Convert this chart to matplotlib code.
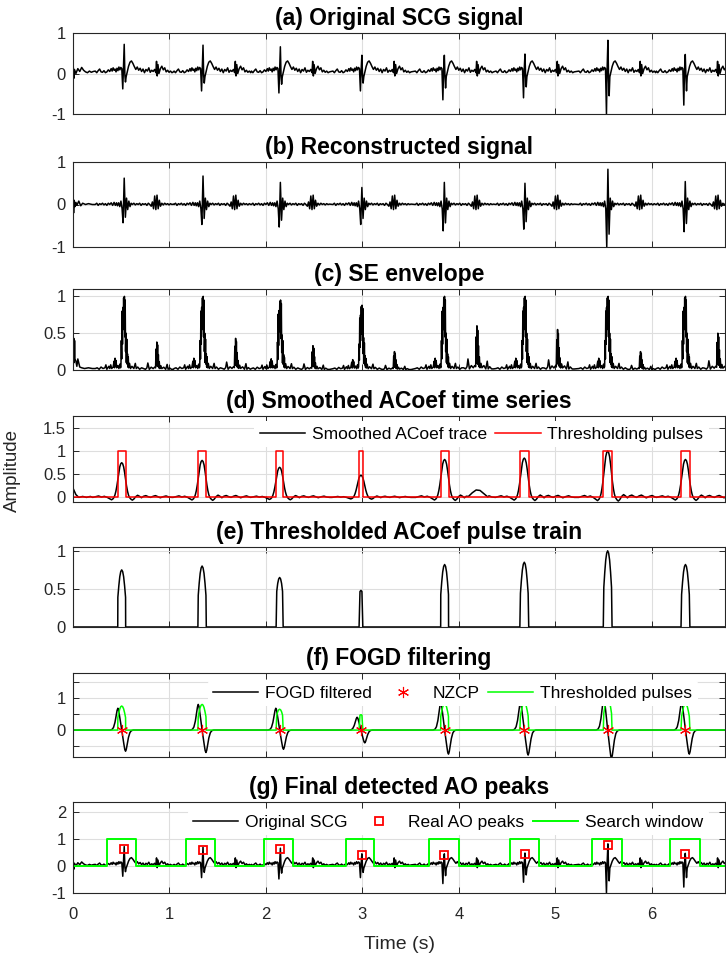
import numpy as np
import matplotlib
matplotlib.use("Agg")
import matplotlib.pyplot as plt

plt.rcParams['font.family'] = ['Liberation Sans', 'DejaVu Sans']
plt.rcParams['axes.unicode_minus'] = False

XMAX = 6.76

# ---- beat timing (s) ----
AO_TIMES = [0.531, 1.348, 2.150, 2.995, 3.850, 4.686, 5.546, 6.348]
AO_PEAK_VALUES = [0.64, 0.61, 0.64, 0.40, 0.40, 0.45, 0.76, 0.43]

# ---- (a) original SCG: one heart cycle around the AO peak ----
SCG_OFF = [-0.300, -0.285, -0.270, -0.255, -0.240, -0.225, -0.210, -0.195, -0.180,
           -0.165, -0.150, -0.135, -0.125, -0.115, -0.105, -0.095, -0.085, -0.075,
           -0.065, -0.055, -0.045, -0.035, -0.025, -0.015, -0.008, 0.000, 0.007,
           0.013, 0.020, 0.030, 0.045, 0.060, 0.075, 0.090, 0.105, 0.120, 0.135,
           0.150, 0.165, 0.180, 0.195, 0.210, 0.225, 0.240, 0.255, 0.270, 0.285,
           0.300, 0.315, 0.328, 0.335, 0.342, 0.350, 0.360, 0.375, 0.390, 0.405,
           0.420, 0.435, 0.450, 0.465, 0.480, 0.495, 0.510]
SCG_VAL = [0.06, 0.02, 0.07, 0.11, 0.04, 0.03, 0.07, 0.02, 0.04,
           0.09, 0.05, 0.12, 0.06, 0.14, 0.08, 0.11, 0.04, 0.13,
           0.07, 0.16, 0.09, 0.15, 0.12, -0.40, 0.10, 0.70, -0.05,
           -0.22, -0.08, 0.02, 0.18, 0.28, 0.31, 0.25, 0.17, 0.10, 0.16,
           0.08, 0.13, 0.05, 0.11, 0.02, 0.10, 0.06, 0.14, 0.03, 0.08,
           0.05, 0.10, 0.02, 0.30, -0.06, 0.22, 0.00, 0.12, 0.18, 0.09,
           0.14, 0.04, 0.08, 0.03, 0.06, 0.02, 0.04]
SCG_LEAD_T = [0.000, 0.008, 0.015, 0.030, 0.050, 0.070, 0.090, 0.110, 0.130, 0.150,
              0.170, 0.190, 0.210]
SCG_LEAD_V = [0.30, -0.12, 0.10, 0.00, 0.12, 0.05, 0.15, 0.08, 0.04, 0.02,
              0.06, 0.03, 0.05]
SCG_AO_POS = [0.72, 0.70, 0.66, 0.45, 0.45, 0.48, 0.82, 0.47]
SCG_AO_NEG = [-0.38, -0.43, -0.48, -0.43, -0.65, -0.60, -1.00, -0.78]

# ---- (b) reconstructed signal ----
REC_OFF = [-0.300, -0.285, -0.270, -0.255, -0.240, -0.225, -0.210, -0.195, -0.180,
           -0.165, -0.150, -0.135, -0.120, -0.105, -0.092, -0.080, -0.070, -0.058,
           -0.046, -0.034, -0.022, -0.012, 0.000, 0.012, 0.024, 0.036, 0.048,
           0.060, 0.072, 0.085, 0.100, 0.115, 0.130, 0.145, 0.160, 0.175, 0.190,
           0.205, 0.220, 0.235, 0.250, 0.265, 0.280, 0.292, 0.304, 0.316, 0.328,
           0.340, 0.352, 0.364, 0.376, 0.390, 0.405, 0.420, 0.435, 0.450, 0.465,
           0.480, 0.495, 0.510]
REC_VAL = [0.00, 0.03, -0.02, 0.02, 0.00, 0.03, -0.01, 0.02, -0.02,
           0.03, 0.00, 0.04, -0.02, 0.05, -0.02, 0.04, -0.03, 0.04,
           -0.05, 0.08, -0.10, -0.43, 0.65, -0.30, 0.15, -0.12, 0.08,
           -0.05, 0.03, 0.00, 0.03, -0.01, 0.02, 0.00, 0.03, -0.02, 0.02,
           0.00, 0.02, -0.02, 0.03, 0.00, -0.04, 0.06, -0.10, 0.20, -0.12,
           0.22, -0.10, 0.10, -0.04, 0.03, -0.01, 0.03, 0.00, 0.02, -0.01,
           0.02, 0.00, 0.01]
REC_LEAD_T = [0.000, 0.006, 0.012, 0.020, 0.030, 0.040, 0.060, 0.080, 0.100,
              0.130, 0.160, 0.200]
REC_LEAD_V = [0.25, -0.20, 0.10, -0.05, 0.05, -0.02, 0.08, -0.03, 0.03,
              0.00, 0.02, 0.00]
REC_AO_POS = [0.62, 0.67, 0.52, 0.40, 0.52, 0.50, 0.83, 0.54]
REC_AO_NEG = [-0.43, -0.47, -0.53, -0.47, -0.62, -0.58, -1.00, -0.64]

# ---- (c) Shannon energy envelope ----
SE_OFF = [-0.300, -0.280, -0.260, -0.240, -0.220, -0.200, -0.190, -0.180, -0.160,
          -0.150, -0.140, -0.130, -0.115, -0.105, -0.100, -0.095, -0.090, -0.085,
          -0.078, -0.065, -0.055, -0.045, -0.038, -0.034, -0.030, -0.026, -0.022,
          -0.018, -0.014, -0.010, -0.006, -0.002, 0.002, 0.006, 0.010, 0.014,
          0.018, 0.022, 0.026, 0.030, 0.034, 0.038, 0.042, 0.046, 0.055, 0.065,
          0.080, 0.100, 0.115, 0.125, 0.140, 0.160, 0.180,
          0.200, 0.220, 0.235, 0.245, 0.260, 0.280, 0.300, 0.315, 0.325, 0.330,
          0.334, 0.338, 0.342, 0.346, 0.350, 0.354, 0.358, 0.363, 0.370, 0.380,
          0.390, 0.410, 0.430, 0.445, 0.455, 0.470, 0.490, 0.510]
SE_VAL = [0.02, 0.03, 0.01, 0.04, 0.02, 0.03, 0.07, 0.01, 0.05,
          0.02, 0.07, 0.02, 0.04, 0.12, 0.03, 0.16, 0.05, 0.13,
          0.03, 0.06, 0.02, 0.08, 0.03, 0.05, 0.40, 0.15, 0.80,
          0.35, 0.85, 0.55, 0.98, 0.60, 1.00, 0.45, 0.95, 0.25,
          0.50, 0.10, 0.42, 0.08, 0.22, 0.04, 0.18, 0.03, 0.09, 0.02,
          0.05, 0.02, 0.09, 0.02, 0.04, 0.01, 0.03,
          0.02, 0.01, 0.03, 0.10, 0.01, 0.04, 0.02, 0.04, 0.03, 0.30,
          0.06, 0.40, 0.12, 0.36, 0.05, 0.22, 0.03, 0.12, 0.02, 0.06,
          0.02, 0.04, 0.01, 0.08, 0.01, 0.03, 0.01, 0.01]
SE_LEAD_T = [0.000, 0.004, 0.008, 0.012, 0.016, 0.020, 0.030, 0.040, 0.050,
             0.070, 0.090, 0.120, 0.160, 0.200]
SE_LEAD_V = [0.45, 0.20, 0.43, 0.10, 0.40, 0.15, 0.12, 0.05, 0.15,
             0.04, 0.03, 0.02, 0.03, 0.02]
SE_AO = [1.00, 1.00, 0.95, 0.88, 1.00, 1.00, 1.00, 1.00]
SE_AC = [0.38, 0.43, 0.33, 0.25, 0.60, 0.55, 0.25, 0.50]

# ---- (d) smoothed ACoef trace and thresholding windows ----
ACOEF_TIMES = [0.505, 1.3385, 2.1425, 2.9855, 3.853, 4.679, 5.5435, 6.350]
ACOEF_PEAK = [0.75, 0.80, 0.65, 0.48, 0.82, 0.85, 1.00, 0.82]
ACOEF_OFF = [-0.300, -0.270, -0.240, -0.210, -0.180, -0.150, -0.125, -0.105, -0.090,
             -0.080, -0.070, -0.060, -0.050, -0.040, -0.030, -0.020, -0.010, 0.000,
             0.010, 0.020, 0.030, 0.040, 0.050, 0.060, 0.070, 0.080, 0.095, 0.110,
             0.125, 0.145, 0.165, 0.185, 0.205, 0.225, 0.250, 0.275, 0.300, 0.325,
             0.350, 0.375, 0.400, 0.430, 0.460, 0.490, 0.520]
ACOEF_VAL = [0.00, 0.02, 0.04, 0.01, 0.03, 0.00, -0.04, -0.07, -0.04,
             0.00, 0.07, 0.18, 0.33, 0.52, 0.72, 0.88, 0.97, 1.00,
             0.97, 0.88, 0.72, 0.52, 0.33, 0.18, 0.07, 0.00, -0.05, -0.08,
             -0.05, 0.02, 0.06, 0.03, -0.01, 0.03, 0.05, 0.02, 0.00, 0.03,
             0.05, 0.02, -0.01, 0.02, 0.04, 0.01, 0.00]
ACOEF_LEAD_T = [0.00, 0.03, 0.06, 0.10, 0.14, 0.18]
ACOEF_LEAD_V = [0.20, 0.06, 0.00, 0.02, 0.00, 0.02]
ACOEF_BUMP_T = [4.10, 4.14, 4.18, 4.22, 4.26, 4.30]
ACOEF_BUMP_V = [0.02, 0.10, 0.16, 0.15, 0.08, 0.01]
PULSE_START = [0.464, 1.295, 2.106, 2.966, 3.812, 4.633, 5.498, 6.304]
PULSE_END = [0.546, 1.382, 2.179, 3.005, 3.894, 4.725, 5.589, 6.396]
PULSE_LEVEL = 1.0

# ---- (f) FOGD output ----
FOGD_OFF = [-0.120, -0.100, -0.085, -0.070, -0.058, -0.048, -0.040, -0.032, -0.022,
            -0.011, 0.000, 0.011, 0.022, 0.032, 0.040, 0.048, 0.058, 0.070, 0.085,
            0.100, 0.120]
FOGD_VAL = [0.00, 0.03, 0.12, 0.35, 0.65, 0.90, 1.00, 0.92, 0.65,
            0.33, 0.00, -0.33, -0.65, -0.92, -1.00, -0.90, -0.65, -0.35, -0.12,
            -0.03, 0.00]
FOGD_POS = [0.68, 0.80, 0.68, 0.40, 0.85, 0.85, 1.00, 0.85]
FOGD_NEG = [-0.66, -0.70, -0.60, -0.40, -0.75, -0.78, -0.88, -0.75]

# ---- (g) search windows ----
WIN_START = [0.353, 1.174, 1.980, 2.826, 3.696, 4.527, 5.386, 6.193]
WIN_END = [0.652, 1.473, 2.285, 3.116, 4.000, 4.830, 5.690, 6.498]
WIN_LEVEL = 1.0


def beat_train(times, off, val, pos_gain, neg_gain=None, core=None,
               late_gain=None, split=np.inf):
    """Lay one template per beat; gains rescale the core / late parts."""
    off = np.asarray(off, float)
    val = np.asarray(val, float)
    core = np.ones(off.shape, bool) if core is None else core
    pmax, nmin = val[core].max(), val[core].min()
    ts, vs = [], []
    for i, t0 in enumerate(times):
        v = val.copy()
        early = off < split
        m = core & early
        v[m & (val > 0)] *= pos_gain[i] / pmax
        if neg_gain is not None:
            v[m & (val < 0)] *= neg_gain[i] / nmin
        else:
            v[m & (val < 0)] *= pos_gain[i] / pmax
        if late_gain is not None:
            v[~early] *= late_gain[i]
        stop = times[i + 1] + off[0] - t0 if i + 1 < len(times) else np.inf
        keep = off < stop
        ts.append(t0 + off[keep])
        vs.append(v[keep])
    return np.concatenate(ts), np.concatenate(vs)


def with_lead(lead_t, lead_v, t, v):
    return np.r_[lead_t, t], np.r_[lead_v, v]


def steps(starts, ends, level):
    xs, ys = [0.0], [0.0]
    for s, e in zip(starts, ends):
        xs += [s, s, e, e]
        ys += [0.0, level, level, 0.0]
    xs.append(XMAX)
    ys.append(0.0)
    return xs, ys


def gate(t, v, starts, ends):
    xs, ys = [0.0], [0.0]
    for s, e in zip(starts, ends):
        m = (t >= s) & (t <= e)
        xs += [s] + list(t[m]) + [e]
        ys += [0.0] + list(v[m]) + [0.0]
    xs.append(XMAX)
    ys.append(0.0)
    return np.array(xs), np.array(ys)


off_a = np.asarray(SCG_OFF)
t_scg, v_scg = beat_train(AO_TIMES, SCG_OFF, SCG_VAL, SCG_AO_POS, SCG_AO_NEG,
                          core=np.abs(off_a) <= 0.016)
t_scg, v_scg = with_lead(SCG_LEAD_T, SCG_LEAD_V, t_scg, v_scg)

off_b = np.asarray(REC_OFF)
t_rec, v_rec = beat_train(AO_TIMES, REC_OFF, REC_VAL, REC_AO_POS, REC_AO_NEG,
                          core=np.abs(off_b) <= 0.013)
t_rec, v_rec = with_lead(REC_LEAD_T, REC_LEAD_V, t_rec, v_rec)

t_se, v_se = beat_train(AO_TIMES, SE_OFF, SE_VAL, SE_AO,
                        core=np.asarray(SE_OFF) < 0.2,
                        late_gain=np.asarray(SE_AC) / 0.4, split=0.2)
t_se, v_se = with_lead(SE_LEAD_T, SE_LEAD_V, t_se, v_se)

t_ac, v_ac = beat_train(ACOEF_TIMES, ACOEF_OFF, ACOEF_VAL, ACOEF_PEAK)
keep = (t_ac < ACOEF_BUMP_T[0]) | (t_ac > ACOEF_BUMP_T[-1])
t_ac, v_ac = t_ac[keep], v_ac[keep]
order = np.argsort(np.r_[t_ac, ACOEF_BUMP_T])
t_ac = np.r_[t_ac, ACOEF_BUMP_T][order]
v_ac = np.r_[v_ac, ACOEF_BUMP_V][order]
t_ac, v_ac = with_lead(ACOEF_LEAD_T, ACOEF_LEAD_V, t_ac, v_ac)

t_th, v_th = gate(t_ac, v_ac, PULSE_START, PULSE_END)

t_fg, v_fg = beat_train(ACOEF_TIMES, FOGD_OFF, FOGD_VAL, FOGD_POS, FOGD_NEG)
t_fg, v_fg = np.r_[0.0, t_fg, XMAX], np.r_[0.0, v_fg, 0.0]

# ---- layout (pixel rows of each axes box) ----
W, H = 726, 959
ROWS = [(33, 114), (162, 247), (289, 370), (416, 502), (547, 627), (673, 757), (802, 893)]
LEFT, RIGHT = 73, 725

AX_COLOR = "#262626"
GRID = "#dedede"

fig = plt.figure(figsize=(W / 100, H / 100), dpi=100)
axes = []
for top, bot in ROWS:
    ax = fig.add_axes([LEFT / W, 1 - bot / H, (RIGHT - LEFT) / W, (bot - top) / H])
    ax.set_xlim(0, XMAX)
    ax.set_xticks(range(7))
    ax.grid(True, color=GRID, lw=0.8)
    ax.set_axisbelow(True)
    ax.tick_params(direction="in", length=4, width=0.7, top=True, right=True,
                   labelsize=12, colors=AX_COLOR, labelbottom=False)
    ax.tick_params(axis="y", pad=5)
    for sp in ax.spines.values():
        sp.set_color(AX_COLOR)
        sp.set_linewidth(0.8)
    axes.append(ax)

ax_a, ax_b, ax_c, ax_d, ax_e, ax_f, ax_g = axes
TITLE_KW = dict(fontsize=16.5, fontweight="bold", pad=5.5)
LEG_KW = dict(fontsize=12.5, frameon=True, facecolor="white", edgecolor="none",
              framealpha=1, handlelength=2.6, handletextpad=0.4, columnspacing=0.5,
              borderpad=0.3, borderaxespad=0, loc="center right")
LW = 1.1

# (a)
ax_a.plot(t_scg, v_scg, color="k", lw=LW)
ax_a.set_ylim(-1, 1)
ax_a.set_yticks([-1, 0, 1])
ax_a.set_title("(a) Original SCG signal", **TITLE_KW)

# (b)
ax_b.plot(t_rec, v_rec, color="k", lw=LW)
ax_b.set_ylim(-1, 1)
ax_b.set_yticks([-1, 0, 1])
ax_b.set_title("(b) Reconstructed signal", **TITLE_KW)

# (c)
ax_c.plot(t_se, v_se, color="k", lw=LW)
ax_c.set_ylim(0, 1.1)
ax_c.set_yticks([0, 0.5, 1])
ax_c.set_yticklabels(["0", "0.5", "1"])
ax_c.set_title("(c) SE envelope", **TITLE_KW)

# (d)
px, py = steps(PULSE_START, PULSE_END, PULSE_LEVEL)
ax_d.plot(t_ac, v_ac, color="k", lw=LW, label="Smoothed ACoef trace")
ax_d.plot(px, py, color="red", lw=LW, label="Thresholding pulses")
ax_d.set_ylim(-0.1, 1.76)
ax_d.set_yticks([0, 0.5, 1, 1.5])
ax_d.set_yticklabels(["0", "0.5", "1", "1.5"])
ax_d.set_title("(d) Smoothed ACoef time series", **TITLE_KW)
ax_d.legend(ncol=2, bbox_to_anchor=(0.975, 0.79), **LEG_KW)

# (e)
ax_e.plot(t_th, v_th, color="k", lw=LW)
ax_e.set_ylim(0, 1.05)
ax_e.set_yticks([0, 0.5, 1])
ax_e.set_yticklabels(["0", "0.5", "1"])
ax_e.set_title("(e) Thresholded ACoef pulse train", **TITLE_KW)

# (f)
ln_f, = ax_f.plot(t_fg, v_fg, color="k", lw=LW)
ln_p, = ax_f.plot(t_th, v_th, color="#00ff00", lw=LW)
mk_z, = ax_f.plot(ACOEF_TIMES, np.zeros(len(ACOEF_TIMES)), ls="none",
                  marker=(6, 2, 0), ms=8, mec="red", mew=0.8, zorder=4)
ax_f.set_ylim(-0.84, 1.78)
ax_f.set_yticks([-0.5, 0, 0.5, 1, 1.5])
ax_f.set_yticklabels(["", "0", "", "1", ""])
ax_f.set_title("(f) FOGD filtering", **TITLE_KW)
ax_f.legend([ln_f, mk_z, ln_p], ["FOGD filtered", "NZCP", "Thresholded pulses"],
            ncol=3, bbox_to_anchor=(0.958, 0.76), **LEG_KW)

# (g)
wx, wy = steps(WIN_START, WIN_END, WIN_LEVEL)
ln_s, = ax_g.plot(t_scg, v_scg, color="k", lw=LW)
ln_w, = ax_g.plot(wx, wy, color="#00ff00", lw=1.4)
mk_ao, = ax_g.plot(AO_TIMES, AO_PEAK_VALUES, ls="none", marker="s", ms=6,
                   mfc="none", mec="red", mew=1.3, zorder=4)
ax_g.set_ylim(-1, 2.37)
ax_g.set_yticks([-1, 0, 1, 2])
ax_g.set_title("(g) Final detected AO peaks", **TITLE_KW)
ax_g.legend([ln_s, mk_ao, ln_w], ["Original SCG", "Real AO peaks", "Search window"],
            ncol=3, bbox_to_anchor=(0.975, 0.78), **LEG_KW)
ax_g.tick_params(axis="x", labelbottom=True, pad=10)
ax_g.set_xlabel("Time (s)", fontsize=14, color=AX_COLOR, labelpad=10)

fig.text(12 / W, 1 - 470 / H, "Amplitude", rotation=90, ha="center", va="center",
         fontsize=13.5, color=AX_COLOR)

fig.savefig("out.png", dpi=100)
